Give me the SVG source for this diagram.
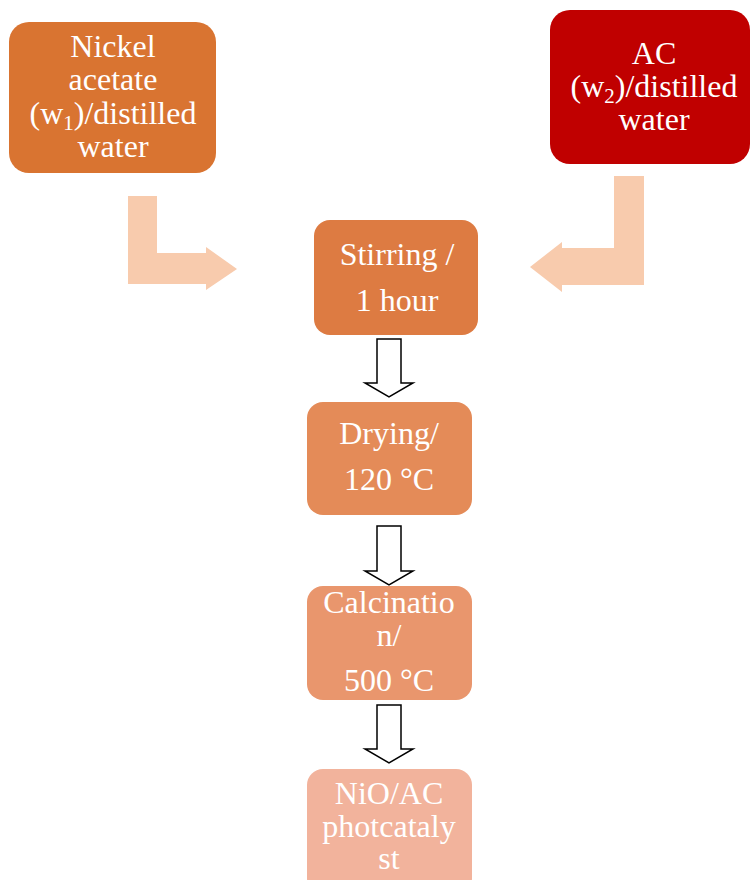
<svg xmlns="http://www.w3.org/2000/svg" width="750" height="880" viewBox="0 0 750 880">
<style>
text{font-family:"Liberation Serif","Times New Roman",serif;font-size:32px;fill:#fff;text-anchor:middle}
.sub{font-size:21px}
.bend{fill:#F8CBAD}
.down{fill:#fff;stroke:#000;stroke-width:1.5}
</style>
<rect width="750" height="880" fill="#fff"/>
<g id="connectors">
<polygon class="bend" points="128,196 157,196 157,253 206,253 206,247 237,269 206,290 206,284 128,284"/>
<polygon class="bend" points="614,176 644,176 644,285 562,285 562,292 530,267 562,242 562,248 614,248"/>
<polygon class="down" points="377,339 401,339 401,383 413,383 389,397 365,383 377,383"/>
<polygon class="down" points="377,526 401,526 401,571 413,571 389,585 365,571 377,571"/>
<polygon class="down" points="377,705 401,705 401,749 413,749 389,763 365,749 377,749"/>
</g>
<g id="nickel">
<rect x="9" y="22" width="207" height="151" rx="20" fill="#D97431"/>
<text x="113" y="57">Nickel</text>
<text x="113" y="90">acetate</text>
<text x="113" y="124">(w<tspan class="sub" dy="6">1</tspan><tspan dy="-6">)/distilled</tspan></text>
<text x="113" y="157">water</text>
</g>
<g id="ac">
<rect x="550" y="10" width="200" height="154" rx="20" fill="#C00000"/>
<text x="654" y="64">AC</text>
<text x="654" y="97">(w<tspan class="sub" dy="6">2</tspan><tspan dy="-6">)/distilled</tspan></text>
<text x="654" y="130">water</text>
</g>
<g id="stirring">
<rect x="314" y="220" width="164" height="115" rx="16" fill="#DD7B42"/>
<text x="397" y="265">Stirring /</text>
<text x="397" y="311">1 hour</text>
</g>
<g id="drying">
<rect x="307" y="402" width="165" height="113" rx="16" fill="#E48B58"/>
<text x="389" y="444">Drying/</text>
<text x="389" y="490">120 °C</text>
</g>
<g id="calcination">
<rect x="307" y="586" width="165" height="114" rx="16" fill="#E9966D"/>
<text x="389" y="613">Calcinatio</text>
<text x="389" y="646">n/</text>
<text x="389" y="691">500 °C</text>
</g>
<g id="nio">
<rect x="307" y="769" width="165" height="125" rx="16" fill="#F2B39C"/>
<text x="389" y="804">NiO/AC</text>
<text x="389" y="837">photcataly</text>
<text x="389" y="869">st</text>
</g>
</svg>
